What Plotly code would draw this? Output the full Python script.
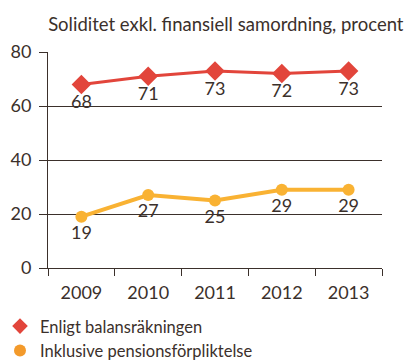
import plotly.graph_objects as go

years = ["2009", "2010", "2011", "2012", "2013"]
balans = [68, 71, 73, 72, 73]
pension = [19, 27, 25, 29, 29]
y_ticks = [0, 20, 40, 60, 80]

title_text = "Soliditet exkl. finansiell samordning, procent"
name_balans = "Enligt balansräkningen"
name_pension = "Inklusive pensionsförpliktelse"

red = "#e2453b"
orange = "#f9b233"
orange_legend = "#f39a2b"
ink = "#3b302b"
font_family = "Lato, 'Open Sans', sans-serif"

fig = go.Figure()

fig.add_trace(go.Scatter(
    x=years, y=balans, mode="lines+markers+text",
    line=dict(color=red, width=3),
    marker=dict(symbol="diamond", size=15, color=red),
    text=[str(v) for v in balans], textposition="bottom center",
    textfont=dict(size=18, color=ink, family=font_family),
    showlegend=False, cliponaxis=False,
))
fig.add_trace(go.Scatter(
    x=years, y=pension, mode="lines+markers+text",
    line=dict(color=orange, width=4),
    marker=dict(symbol="circle", size=12, color=orange),
    text=[str(v) for v in pension], textposition="bottom center",
    textfont=dict(size=18, color=ink, family=font_family),
    showlegend=False, cliponaxis=False,
))

# legend entries show the marker symbol only
fig.add_trace(go.Scatter(
    x=[None], y=[None], mode="markers", name=name_balans,
    marker=dict(symbol="diamond", size=12, color=red),
))
fig.add_trace(go.Scatter(
    x=[None], y=[None], mode="markers", name=name_pension,
    marker=dict(symbol="circle", size=12, color=orange_legend),
))

fig.update_layout(
    width=408, height=360,
    margin=dict(l=48, r=26, t=52, b=92, autoexpand=False),
    paper_bgcolor="white", plot_bgcolor="white",
    font=dict(family=font_family, color=ink, size=16),
    title=dict(text=title_text, xref="container", x=0.118, xanchor="left",
               yref="container", y=0.933, yanchor="middle",
               font=dict(size=18.5, color=ink, family=font_family)),
    showlegend=True,
    legend=dict(orientation="v", xref="container", x=0.0, xanchor="left",
                yref="container", y=0.142, yanchor="top",
                font=dict(size=16.5, color=ink, family=font_family),
                itemsizing="constant", tracegroupgap=0, bgcolor="rgba(0,0,0,0)"),
)

fig.update_xaxes(
    type="category", tickson="boundaries", ticks="outside", ticklen=7,
    tickcolor=ink, tickwidth=1, showline=True, linecolor=ink, linewidth=1,
    showgrid=False, tickfont=dict(size=18, color=ink), range=[-0.5, 4.5],
    ticklabelstandoff=8,
)
fig.update_yaxes(
    range=[0, 80], tickvals=y_ticks, ticks="outside", ticklen=8, tickcolor=ink,
    tickwidth=1, showline=True, linecolor=ink, linewidth=1,
    showgrid=True, gridcolor=ink, gridwidth=1, zeroline=False,
    tickfont=dict(size=18, color=ink), ticklabelstandoff=4,
)

fig.write_html("out.html")
